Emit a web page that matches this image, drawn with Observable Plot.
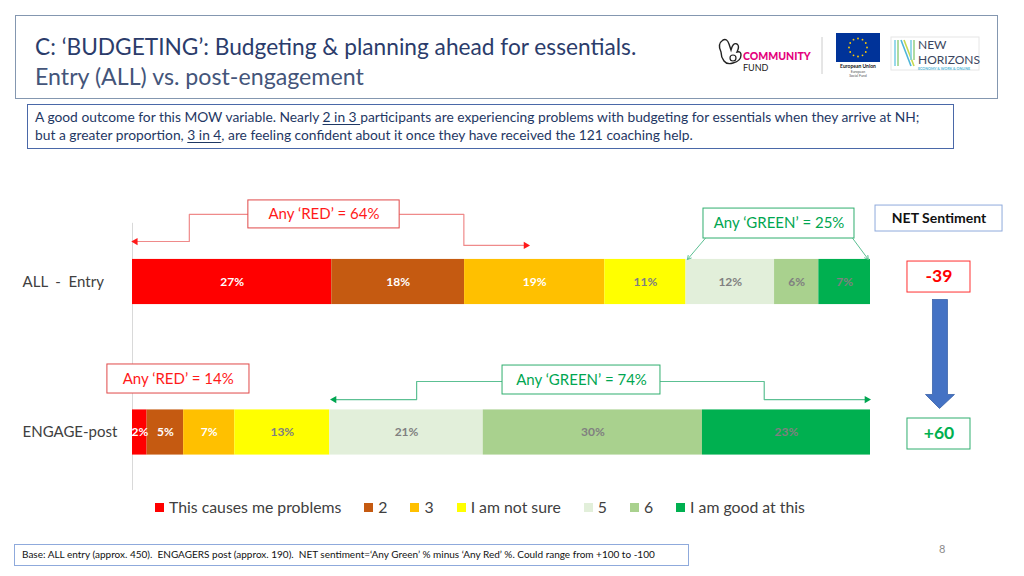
<!DOCTYPE html>
<html><head><meta charset="utf-8">
<script src="https://cdn.jsdelivr.net/npm/d3@7"></script>
<script src="https://cdn.jsdelivr.net/npm/@observablehq/plot@0.6"></script>
<style>
body{margin:0;background:#fff;font-family:Lato,"Noto Sans",sans-serif;}
#page{position:relative;width:1024px;height:576px;overflow:hidden;background:#fff;}
.abs{position:absolute;}
#titlebox{left:15px;top:15px;width:983px;height:84px;border:1px solid #8497b0;box-sizing:border-box;}
#title{left:35px;top:33px;font-size:22.7px;color:#2b3c6b;white-space:nowrap;}
#subtitle{left:35px;top:62px;font-size:23.2px;color:#44557a;white-space:nowrap;}
#descbox{left:27px;top:104px;width:927px;height:45px;border:1px solid #4a68a8;box-sizing:border-box;}
#desc{left:35px;top:108px;font-size:13.8px;line-height:18px;color:#1f3864;white-space:nowrap;}
#desc u{text-underline-offset:2px;}
#chart{left:0;top:150px;}
#chart text{white-space:pre;}
#legend{left:155px;top:497px;display:flex;align-items:center;font-size:15.8px;line-height:20px;color:#404040;white-space:nowrap;}
#legend .item{display:flex;align-items:center;margin-right:23px;}
#legend .sw{width:9px;height:9px;margin-right:5px;}
#footbox{left:14px;top:544px;width:675px;height:22px;border:1px solid #8faadc;box-sizing:border-box;}
#foot{left:22px;top:548px;font-size:10px;color:#111;white-space:nowrap;}
#pagenum{left:939px;top:542px;font-size:11px;color:#8c8c8c;}
</style></head>
<body><div id="page">
<div id="titlebox" class="abs"></div>
<div id="title" class="abs">C: ‘BUDGETING’: Budgeting &amp; planning ahead for essentials.</div>
<div id="subtitle" class="abs">Entry (ALL) vs. post-engagement</div>
<svg class="abs" style="left:700px;top:28px" width="290" height="60" viewBox="700 28 290 60">
  <!-- Community Fund -->
  <path d="M721 52 q-4 -8 2 -12 q4 -2 6 4 l2 6 q2 -8 6 -6 q3 2 0 8 q4 -1 4 3 q0 6 -8 8 q-6 2 -9 -2 q-3 -4 -3 -9z" fill="none" stroke="#222" stroke-width="1.4"/>
  <circle cx="733" cy="58" r="3" fill="none" stroke="#222" stroke-width="1.2"/>
  <text x="743" y="59.5" font-size="10.5" font-weight="900" fill="#e4007c" font-family="Lato">COMMUNITY</text>
  <text x="743" y="71" font-size="9" fill="#222" font-family="Lato">FUND</text>
  <line x1="822" y1="37" x2="822" y2="74" stroke="#ccc"/>
  <!-- EU -->
  <rect x="836" y="33" width="44" height="29" fill="#003399"/>
  <g id="stars" fill="#ffcc00"></g>
  <text x="858" y="67.5" font-size="5" font-weight="700" text-anchor="middle" fill="#111" font-family="Lato">European Union</text>
  <text x="858" y="72.5" font-size="3.5" text-anchor="middle" fill="#555" font-family="Lato">European</text>
  <text x="858" y="77" font-size="3.5" text-anchor="middle" fill="#555" font-family="Lato">Social Fund</text>
  <!-- New Horizons -->
  <rect x="891" y="37" width="88" height="33" fill="none" stroke="#e6e6e6"/>
  <g stroke-width="1.6">
    <line x1="895" y1="40" x2="895" y2="66" stroke="#7fd0e6"/>
    <line x1="898" y1="40" x2="898" y2="66" stroke="#9bd38a"/>
    <line x1="901" y1="40" x2="911" y2="66" stroke="#4fb6d8"/>
    <line x1="904" y1="40" x2="914" y2="66" stroke="#c8d94f"/>
    <line x1="911" y1="40" x2="911" y2="60" stroke="#7fd0e6"/>
    <line x1="914" y1="40" x2="914" y2="60" stroke="#9bd38a"/>
  </g>
  <text x="918" y="49" font-size="12" fill="#3a4660" font-family="Lato">NEW</text>
  <text x="918" y="63.5" font-size="12" fill="#3a4660" font-family="Lato">HORIZONS</text>
  <text x="918" y="70" font-size="3.6" font-weight="700" fill="#4fb6d8" font-family="Lato">ECONOMY &amp; WORK &amp; ONLINE</text>
</svg>
<div id="descbox" class="abs"></div>
<div id="desc" class="abs">A good outcome for this MOW variable. Nearly <u>2 in 3 </u>participants are experiencing problems with budgeting for essentials when they arrive at NH;<br>but a greater proportion, <u>3 in 4</u>, are feeling confident about it once they have received the 121 coaching help.</div>
<div id="chart" class="abs"></div>
<div id="legend" class="abs"></div>
<div id="footbox" class="abs"></div>
<div id="foot" class="abs">Base: ALL entry (approx. 450).&nbsp; ENGAGERS post (approx. 190).&nbsp; NET sentiment=‘Any Green’ % minus ‘Any Red’ %. Could range from +100 to -100</div>
<div id="pagenum" class="abs">8</div>
</div>
<script>
// ---- data ----
const categories = ["ALL  -  Entry", "ENGAGE-post"];
const responses = ["This causes me problems", "2", "3", "I am not sure", "5", "6", "I am good at this"];
const entryValues = [27, 18, 19, 11, 12, 6, 7];
const engageValues = [2, 5, 7, 13, 21, 30, 23];
const responseColors = ["#FF0000", "#C55A11", "#FFC000", "#FFFF00", "#E2EFDA", "#A9D18E", "#00B050"];

// EU stars
(function(){
  const g = document.getElementById("stars");
  for (let i = 0; i < 12; i++) {
    const a = i * Math.PI / 6;
    const c = document.createElementNS("http://www.w3.org/2000/svg", "circle");
    c.setAttribute("cx", 858 + 9 * Math.cos(a));
    c.setAttribute("cy", 47.5 + 9 * Math.sin(a));
    c.setAttribute("r", 0.9);
    g.appendChild(c);
  }
})();

// ---- derived (stacked, normalized) ----
const seriesValues = [entryValues, engageValues];
const segments = [];
const summary = [];
seriesValues.forEach((vals, row) => {
  const total = d3.sum(vals);
  let acc = 0;
  vals.forEach((v, i) => {
    segments.push({row, category: categories[row], response: responses[i], idx: i, value: v,
      x1: acc / total, x2: (acc + v) / total});
    acc += v;
  });
  const red = d3.sum(vals.slice(0, 3));
  const green = d3.sum(vals.slice(4));
  summary.push({row, red, green, net: green - red,
    greenStart: d3.sum(vals.slice(0, 4)) / total});
});
const fmtNet = n => (n > 0 ? "+" : "") + n;
const half = 0.15; // half bar thickness in row units

// layout: svg placed at page y=150, height 340; rows at page y 281.5 and 432
const H = 340, top0 = 150, rowY0 = 281.5, rowStep = 150.5;
const yDomain = [(top0 - rowY0) / rowStep, (top0 + H - rowY0) / rowStep];

const RED_LINE = "#ef8a8a", RED_BOX = "#e04848", RED_TXT = "#ff1a1a";
const GRN_LINE = "#5cc093", GRN_BOX = "#2fae6e", GRN_TXT = "#00a651";

const S0 = summary[0], S1 = summary[1];

const box = (x1, x2, y1, y2, stroke) =>
  Plot.rect([0], {x1: () => x1, x2: () => x2, y1: () => y1, y2: () => y2, fill: "white", stroke, strokeWidth: 1});
const label = (x, y, text, opts) =>
  Plot.text([text], {x: () => x, y: () => y, text: d => d, ...opts});
const path = (pts, stroke) => Plot.line(pts, {x: "x", y: "y", stroke, strokeWidth: 1.2});
const head = (x, y, rot, fill) =>
  Plot.dot([0], {x: () => x, y: () => y, symbol: "triangle", rotate: rot, r: 2.7, fill, stroke: "none"});

const chart = Plot.plot({
  width: 1024, height: H,
  marginLeft: 132, marginRight: 154, marginTop: 0, marginBottom: 0,
  style: {fontFamily: "Lato, 'Noto Sans', sans-serif", background: "transparent"},
  x: {domain: [0, 1], axis: null},
  y: {domain: yDomain, reverse: true, axis: null},
  color: {domain: responses, range: responseColors},
  marks: [
    // category axis line
    Plot.ruleX([0], {x: d => d, y1: () => -0.39, y2: () => yDomain[1], stroke: "#d9d9d9"}),
    // bars
    Plot.rect(segments, {x1: "x1", x2: "x2", y1: d => d.row - half, y2: d => d.row + half, fill: "response"}),
    Plot.text(segments.filter(d => d.idx < 3), {x: d => (d.x1 + d.x2) / 2, y: "row", text: d => d.value + "%",
      fill: "white", fontWeight: "bold", fontSize: 12}),
    Plot.text(segments.filter(d => d.idx >= 3), {x: d => (d.x1 + d.x2) / 2, y: "row", text: d => d.value + "%",
      fill: "#808080", fontWeight: "bold", fontSize: 12}),
    // category labels
    Plot.text(categories, {x: () => -0.149, y: (d, i) => i, text: d => d, textAnchor: "start", fontSize: 15, fill: "#404040"}),

    // ENTRY: Any RED bracket
    path([{x: 0.157, y: -0.449}, {x: 0.077, y: -0.449}, {x: 0.077, y: -0.269}, {x: 0.006, y: -0.269}], RED_LINE),
    head(0.004, -0.269, -90, RED_TXT),
    path([{x: 0.362, y: -0.449}, {x: 0.449, y: -0.449}, {x: 0.449, y: -0.243}, {x: 0.530, y: -0.243}], RED_LINE),
    head(0.533, -0.243, 90, RED_TXT),
    box(0.157, 0.362, -0.542, -0.356, RED_BOX),
    label(0.2595, -0.449, `Any ‘RED’ = ${S0.red}%`, {fill: RED_TXT, fontSize: 15}),

    // ENTRY: Any GREEN
    Plot.arrow([0], {x1: () => 0.776, y1: () => -0.289, x2: () => S0.greenStart + 0.002, y2: () => -half,
      stroke: GRN_LINE, strokeWidth: 1, headLength: 6}),
    Plot.arrow([0], {x1: () => 0.976, y1: () => -0.289, x2: () => 0.997, y2: () => -half,
      stroke: GRN_LINE, strokeWidth: 1, headLength: 6}),
    box(0.7737, 0.9783, -0.488, -0.289, GRN_BOX),
    label(0.876, -0.389, `Any ‘GREEN’ = ${S0.green}%`, {fill: GRN_TXT, fontSize: 15}),

    // ENGAGE: Any RED
    box(-0.034, 0.1585, 0.548, 0.741, RED_BOX),
    label(0.062, 0.6445, `Any ‘RED’ = ${S1.red}%`, {fill: RED_TXT, fontSize: 15}),

    // ENGAGE: Any GREEN bracket
    path([{x: 0.5014, y: 0.661}, {x: 0.385, y: 0.661}, {x: 0.385, y: 0.781}, {x: S1.greenStart + 0.008, y: 0.781}], GRN_LINE),
    head(S1.greenStart + 0.006, 0.781, -90, GRN_TXT),
    path([{x: 0.7154, y: 0.661}, {x: 0.856, y: 0.661}, {x: 0.856, y: 0.781}, {x: 0.993, y: 0.781}], GRN_LINE),
    head(0.995, 0.781, 90, GRN_TXT),
    box(0.5014, 0.7154, 0.555, 0.7475, GRN_BOX),
    label(0.6084, 0.651, `Any ‘GREEN’ = ${S1.green}%`, {fill: GRN_TXT, fontSize: 15}),

    // NET sentiment
    box(1.0068, 1.1789, -0.508, -0.3355, "#8faadc"),
    label(1.0928, -0.422, "NET Sentiment", {fill: "#111", fontSize: 14, fontWeight: "bold"}),
    box(1.0501, 1.1355, -0.136, 0.070, "#ff3030"),
    label(1.0928, -0.035, fmtNet(S0.net), {fill: "#ff0000", fontSize: 17.5, fontWeight: "bold"}),
    box(1.0501, 1.1355, 0.907, 1.113, GRN_BOX),
    label(1.0928, 1.008, fmtNet(S1.net), {fill: "#00b050", fontSize: 17.5, fontWeight: "bold"}),
    // blue down arrow
    Plot.line([
      {x: 1.0840, y: 0.1163}, {x: 1.1043, y: 0.1163}, {x: 1.1043, y: 0.7475}, {x: 1.1138, y: 0.7475},
      {x: 1.0935, y: 0.8405}, {x: 1.0745, y: 0.7475}, {x: 1.0840, y: 0.7475}, {x: 1.0840, y: 0.1163}
    ], {x: "x", y: "y", fill: "#4472c4", stroke: "#3a62a8", strokeWidth: 0.8})
  ]
});
document.getElementById("chart").appendChild(chart);

// legend
const legend = document.getElementById("legend");
responses.forEach((r, i) => {
  const item = document.createElement("div");
  item.className = "item";
  const sw = document.createElement("div");
  sw.className = "sw";
  sw.style.background = responseColors[i];
  const t = document.createElement("span");
  t.textContent = r;
  item.appendChild(sw); item.appendChild(t);
  legend.appendChild(item);
});
</script>
</body></html>
